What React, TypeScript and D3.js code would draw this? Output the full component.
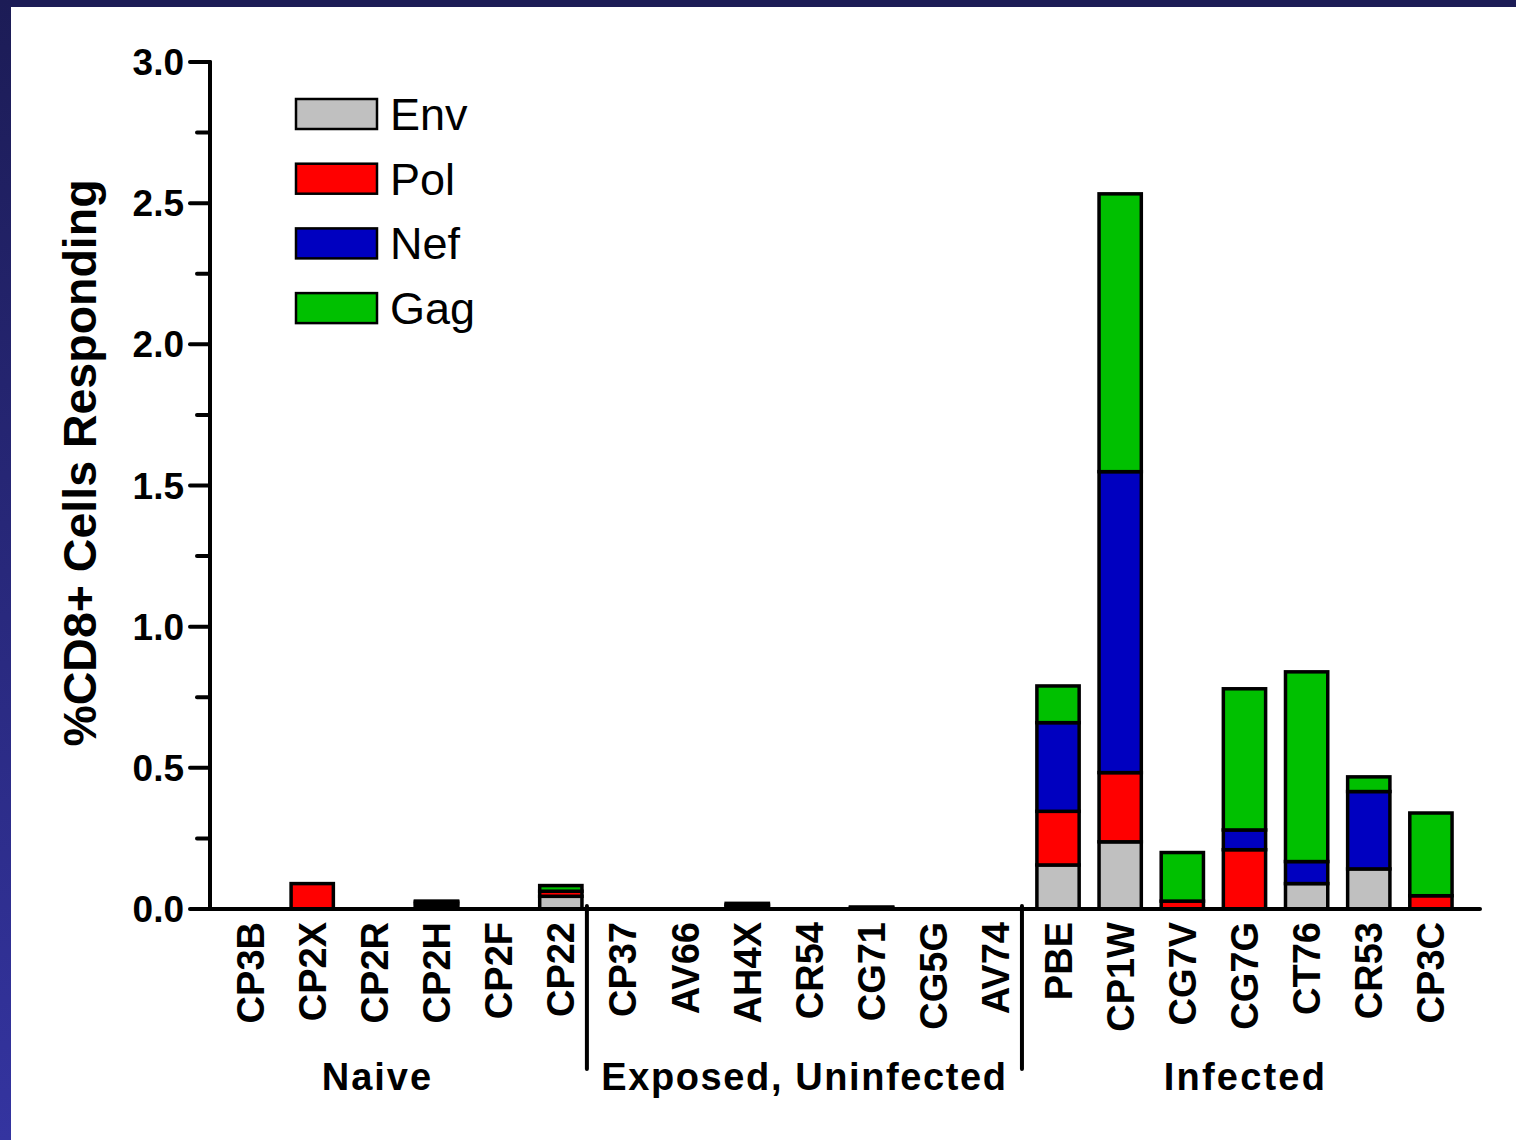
import React from "react";
import * as d3 from "d3";

const categories = ["CP3B","CP2X","CP2R","CP2H","CP2F","CP22","CP37","AV66","AH4X","CR54","CG71","CG5G","AV74","PBE","CP1W","CG7V","CG7G","CT76","CR53","CP3C"];
const seriesNames = ["Env","Pol","Nef","Gag"];
const envValues = [0,0,0,0.01,0,0.045,0,0,0.01,0,0.005,0,0,0.156,0.238,0,0,0.09,0.142,0];
const polValues = [0,0.09,0,0.01,0,0.018,0,0,0.005,0,0,0,0,0.19,0.245,0.028,0.21,0,0,0.047];
const nefValues = [0,0,0,0.005,0,0,0,0,0.005,0,0,0,0,0.314,1.066,0,0.07,0.078,0.274,0];
const gagValues = [0,0,0,0.003,0,0.02,0,0,0,0,0.002,0,0,0.13,0.984,0.172,0.5,0.672,0.052,0.293];
const seriesColors = ["#c0c0c0","#ff0000","#0000c0","#00c000"];
const groups = [
  { name: "Naive", start: 0, end: 5 },
  { name: "Exposed, Uninfected", start: 6, end: 12 },
  { name: "Infected", start: 13, end: 19 },
];
const yMajorTicks = [0,0.5,1.0,1.5,2.0,2.5,3.0];
const yMinorTicks = [0.25,0.75,1.25,1.75,2.25,2.75];
const yTitle = "%CD8+ Cells Responding";

const W = 1516, H = 1140;
const FONT = "'Liberation Sans', Arial, Helvetica, sans-serif";

export default function App() {
  const y = d3.scaleLinear().domain([0, 3]).range([909, 62]);
  const x = d3.scaleBand<string>().domain(categories).range([219, 1462]).paddingInner(0.32).paddingOuter(0.16);
  const rows = categories.map((c, i) => ({
    cat: c, Env: envValues[i], Pol: polValues[i], Nef: nefValues[i], Gag: gagValues[i],
  }));
  const stacked = d3.stack<any>().keys(seriesNames)(rows);
  const cx = (i: number) => (x(categories[i]) as number) + x.bandwidth() / 2;
  const groupShift: Record<string, number> = { "Naive": -28, "Exposed, Uninfected": -5, "Infected": 1 };
  const groupSpacing: Record<string, number> = { "Naive": 2, "Exposed, Uninfected": 1.6, "Infected": 2.2 };

  return (
    <div style={{ position: "absolute", left: 0, top: 0 }}>
      <svg width={W} height={H} style={{ display: "block" }} fontFamily={FONT}>
        <defs>
          <linearGradient id="lb" x1="0" y1="0" x2="0" y2="1">
            <stop offset="0" stopColor="#1c1c56" />
            <stop offset="1" stopColor="#3434a0" />
          </linearGradient>
        </defs>
        <rect x={0} y={0} width={W} height={H} fill="#ffffff" />
        <rect x={0} y={0} width={W} height={7} fill="#1c1c56" />
        <rect x={0} y={0} width={11} height={H} fill="url(#lb)" />

        {/* bars */}
        {stacked.map((s, si) => (
          <g key={s.key}>
            {s.map((d, i) => {
              const h = y(d[0]) - y(d[1]);
              if (h <= 0) return null;
              return (
                <rect key={i} x={x(categories[i])} y={y(d[1])} width={x.bandwidth()} height={h}
                  fill={seriesColors[si]} stroke="#000" strokeWidth={3.5} />
              );
            })}
          </g>
        ))}

        {/* y axis */}
        <line x1={210} x2={210} y1={y(3)} y2={y(0)} stroke="#000" strokeWidth={4} strokeLinecap="round" />
        {yMajorTicks.map((t) => (
          <g key={t}>
            <line x1={190} x2={210} y1={y(t)} y2={y(t)} stroke="#000" strokeWidth={4} strokeLinecap="round" />
            <text x={184} y={y(t) + 13} textAnchor="end" fontSize={37} fontWeight="bold">{t.toFixed(1)}</text>
          </g>
        ))}
        {yMinorTicks.map((t) => (
          <line key={t} x1={197} x2={210} y1={y(t)} y2={y(t)} stroke="#000" strokeWidth={4} strokeLinecap="round" />
        ))}
        <text transform={`translate(96,463) rotate(-90)`} textAnchor="middle" fontSize={46.5} fontWeight="bold">{yTitle}</text>

        {/* x axis */}
        <line x1={210} x2={1480} y1={909} y2={909} stroke="#000" strokeWidth={4} strokeLinecap="round" />
        {categories.map((c, i) => (
          <text key={c} transform={`translate(${cx(i) + 13.5},922) rotate(-90)`} textAnchor="end" fontSize={38} fontWeight="bold">{c}</text>
        ))}
        {groups.slice(0, -1).map((g, gi) => {
          const sx = (cx(g.end) + cx(g.end + 1)) / 2 - 5;
          return <line key={gi} x1={sx} x2={sx} y1={906} y2={1069} stroke="#000" strokeWidth={4} strokeLinecap="round" />;
        })}
        {groups.map((g) => (
          <text key={g.name} x={(cx(g.start) + cx(g.end)) / 2 + groupShift[g.name]}
            y={1090} textAnchor="middle" fontSize={38} fontWeight="bold" letterSpacing={groupSpacing[g.name]}>{g.name}</text>
        ))}

        {/* legend */}
        {seriesNames.map((n, i) => (
          <g key={n} transform={`translate(296,${99 + i * 64.7})`}>
            <rect x={0} y={0} width={81} height={30} fill={seriesColors[i]} stroke="#000" strokeWidth={2.5} />
            <text x={94} y={31} fontSize={45}>{n}</text>
          </g>
        ))}
      </svg>
    </div>
  );
}
